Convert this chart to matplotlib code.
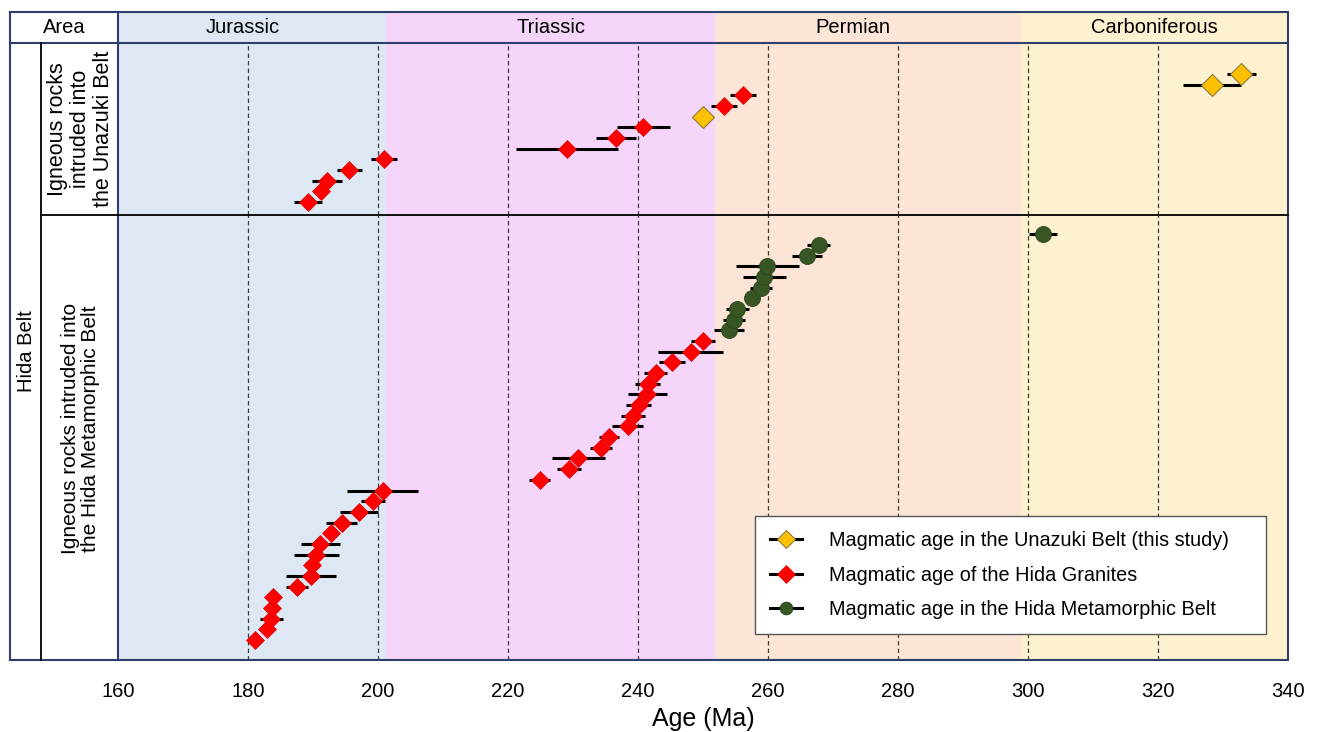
import numpy as np
import matplotlib
matplotlib.use("Agg")
import matplotlib.pyplot as plt
from matplotlib.lines import Line2D
from matplotlib import font_manager

# ---------------- data ----------------
periods = ["Jurassic", "Triassic", "Permian", "Carboniferous"]
period_bounds = [160, 201.3, 251.9, 298.9, 340]
period_colors = ["#dee8f5", "#f6d5fb", "#fce4d6", "#fef1cf"]

# upper panel: Igneous rocks intruded into the Unazuki Belt (bottom -> top)
upper_age = [189.2, 191.2, 192.1, 195.6, 200.9, 229.1, 236.6, 240.8, 250.0, 253.2, 256.2, 328.3, 332.8]
upper_err = [2.2, 1.0, 2.3, 1.9, 2.0, 7.8, 3.1, 4.1, 1.0, 2.0, 2.0, 4.4, 2.2]
upper_grp = ["granite", "granite", "granite", "granite", "granite", "granite", "granite", "granite",
             "unazuki", "granite", "granite", "unazuki", "unazuki"]

# lower panel: Igneous rocks intruded into the Hida Metamorphic Belt (bottom -> top)
lower_age = [181.0, 182.9, 183.6, 183.7, 183.9, 187.6, 189.7, 189.9, 190.5, 191.1, 192.7, 194.4, 197.1, 199.2, 200.7,
             224.9, 229.4, 230.8, 234.3, 235.5, 238.4, 239.2, 240.1, 241.4, 241.5, 242.7, 245.3, 248.1, 250.05,
             254.05, 254.8, 255.3, 257.5, 258.9, 259.4, 259.9, 266.0, 267.8, 302.3]
lower_err = [0.8, 0.8, 1.8, 0.8, 0.8, 1.7, 3.85, 0.8, 3.5, 3.0, 1.0, 2.35, 2.9, 1.85, 5.4,
             1.6, 1.8, 4.1, 1.7, 1.5, 2.4, 1.85, 1.95, 3.0, 1.9, 1.8, 2.0, 5.0, 1.85,
             2.3, 1.7, 1.8, 1.0, 1.7, 3.3, 4.8, 2.25, 1.75, 2.1]
lower_grp = ["granite"] * 29 + ["metamorphic"] * 10

x_ticks = [160, 180, 200, 220, 240, 260, 280, 300, 320, 340]
grid_ages = [180, 200, 220, 240, 260, 280, 300, 320]

legend_labels = {
    "unazuki": "Magmatic age in the Unazuki Belt (this study)",
    "granite": "Magmatic age of the Hida Granites",
    "metamorphic": "Magmatic age in the Hida Metamorphic Belt",
}

# ---------------- styles ----------------
names = {f.name for f in font_manager.fontManager.ttflist}
base_font = "Liberation Sans" if "Liberation Sans" in names else "DejaVu Sans"
plt.rcParams["font.family"] = [base_font, "DejaVu Sans"]

styles = {
    "unazuki": dict(marker="D", ms=11.5, mfc="#ffc000", mec="#8a7a40", mew=0.8),
    "granite": dict(marker="D", ms=9.5, mfc="#ff0000", mec="#e00000", mew=0.5),
    "metamorphic": dict(marker="o", ms=11.5, mfc="#375623", mec="#2c461c", mew=0.6),
}
navy = "#2f3e6b"

W, H = 1318, 732
fig = plt.figure(figsize=(W / 100, H / 100), dpi=100)


def frac(x0, y0, x1, y1):
    return [x0 / W, 1 - y1 / H, (x1 - x0) / W, (y1 - y0) / H]


XL, XR = 118, 1288
Y_HEAD, Y_TOP, Y_MID, Y_BOT = 12, 43, 215, 660

ax_h = fig.add_axes(frac(XL, Y_HEAD, XR, Y_TOP))
ax_u = fig.add_axes(frac(XL, Y_TOP, XR, Y_MID))
ax_l = fig.add_axes(frac(XL, Y_MID, XR, Y_BOT))

for ax in (ax_h, ax_u, ax_l):
    ax.set_xlim(period_bounds[0], period_bounds[-1])
    for i in range(len(periods)):
        ax.axvspan(period_bounds[i], period_bounds[i + 1], color=period_colors[i], lw=0, zorder=0)
    for s in ax.spines.values():
        s.set_visible(False)
    ax.set_yticks([])

# header
ax_h.set_ylim(0, 1)
ax_h.set_xticks([])
header_shift = [-1.5, 0, -2.3, 0]
for i, p in enumerate(periods):
    ax_h.text((period_bounds[i] + period_bounds[i + 1]) / 2 + header_shift[i], 0.5, p,
              ha="center", va="center", fontsize=14.5)


def draw_panel(ax, ages, errs, grps):
    y = np.arange(len(ages))
    ages = np.asarray(ages)
    errs = np.asarray(errs)
    for g in ["granite", "metamorphic", "unazuki"]:
        m = np.array([gg == g for gg in grps])
        if not m.any():
            continue
        ax.errorbar(ages[m], y[m], xerr=errs[m], fmt="none", ecolor="black", elinewidth=2.2, capsize=0, zorder=3)
        ax.plot(ages[m], y[m], ls="none", zorder=4, **styles[g])
    for a in grid_ages:
        ax.axvline(a, color="#3a3a3a", lw=0.9, ls=(0, (3.5, 2.5)), zorder=1)


draw_panel(ax_u, upper_age, upper_err, upper_grp)
draw_panel(ax_l, lower_age, lower_err, lower_grp)
ax_u.set_ylim(-1.22, 14.9)
ax_l.set_ylim(-1.87, 39.8)
ax_u.set_xticks([])

ax_l.set_xticks(x_ticks)
ax_l.set_xticklabels([str(t) for t in x_ticks], fontsize=14.5)
ax_l.tick_params(axis="x", length=0, pad=16)
ax_l.set_xlabel("Age (Ma)", fontsize=18, labelpad=4)

# legend
keys = ["unazuki", "granite", "metamorphic"]
handles = [Line2D([], [], color="black", lw=2.2, **styles[k]) for k in keys]
for h, k in zip(handles, keys):
    if k != "granite":
        h.set_markersize(styles[k]["ms"] * 0.8)
LX0, LX1, LYB, LYT = 755, 1266, 634, 518
leg = ax_l.legend(handles, [legend_labels[k] for k in keys],
                  loc="lower left", mode="expand",
                  bbox_to_anchor=((LX0 - XL) / (XR - XL), (Y_BOT - LYB) / (Y_BOT - Y_MID),
                                  (LX1 - LX0) / (XR - XL), (LYB - LYT) / (Y_BOT - Y_MID)),
                  fontsize=14.3, frameon=True, fancybox=False, framealpha=1, edgecolor="#555555",
                  handlelength=1.6, handletextpad=1.4, labelspacing=0.78, borderpad=0.75, borderaxespad=0)
leg.get_frame().set_linewidth(1.0)
leg.set_zorder(10)

# overlay for the table lines and left labels
ov = fig.add_axes([0, 0, 1, 1], facecolor="none")
ov.set_xlim(0, W)
ov.set_ylim(H, 0)
ov.axis("off")
ov.set_zorder(5)

XA, XB = 10, 41
lw_n = 1.5
# outer frame (navy)
ov.plot([XA, XR, XR, XA, XA], [Y_HEAD, Y_HEAD, Y_BOT, Y_BOT, Y_HEAD], color=navy, lw=lw_n, solid_joinstyle="miter")
ov.plot([XA, XR], [Y_TOP, Y_TOP], color=navy, lw=lw_n)
ov.plot([XL, XL], [Y_HEAD, Y_BOT], color=navy, lw=lw_n)
# inner lines (black)
ov.plot([XB, XB], [Y_TOP, Y_BOT], color="black", lw=1.3)
ov.plot([XB, XR], [Y_MID, Y_MID], color="black", lw=1.3)

ov.text((XA + XL) / 2, (Y_HEAD + Y_TOP) / 2, "Area", ha="center", va="center", fontsize=14.5)
ov.text((XA + XB) / 2 + 1, (Y_TOP + Y_BOT) / 2, "Hida Belt", ha="center", va="center", rotation=90, fontsize=14.5)
ov.text((XB + XL) / 2 + 1, (Y_TOP + Y_MID) / 2, "Igneous rocks\nintruded into\nthe Unazuki Belt",
        ha="center", va="center", rotation=90, fontsize=15.5, linespacing=1.1)
ov.text((XB + XL) / 2 + 1, (Y_MID + Y_BOT) / 2 - 9, "Igneous rocks intruded into\nthe Hida Metamorphic Belt",
        ha="center", va="center", rotation=90, fontsize=15, linespacing=1.1)

fig.savefig("out.png", dpi=100)
